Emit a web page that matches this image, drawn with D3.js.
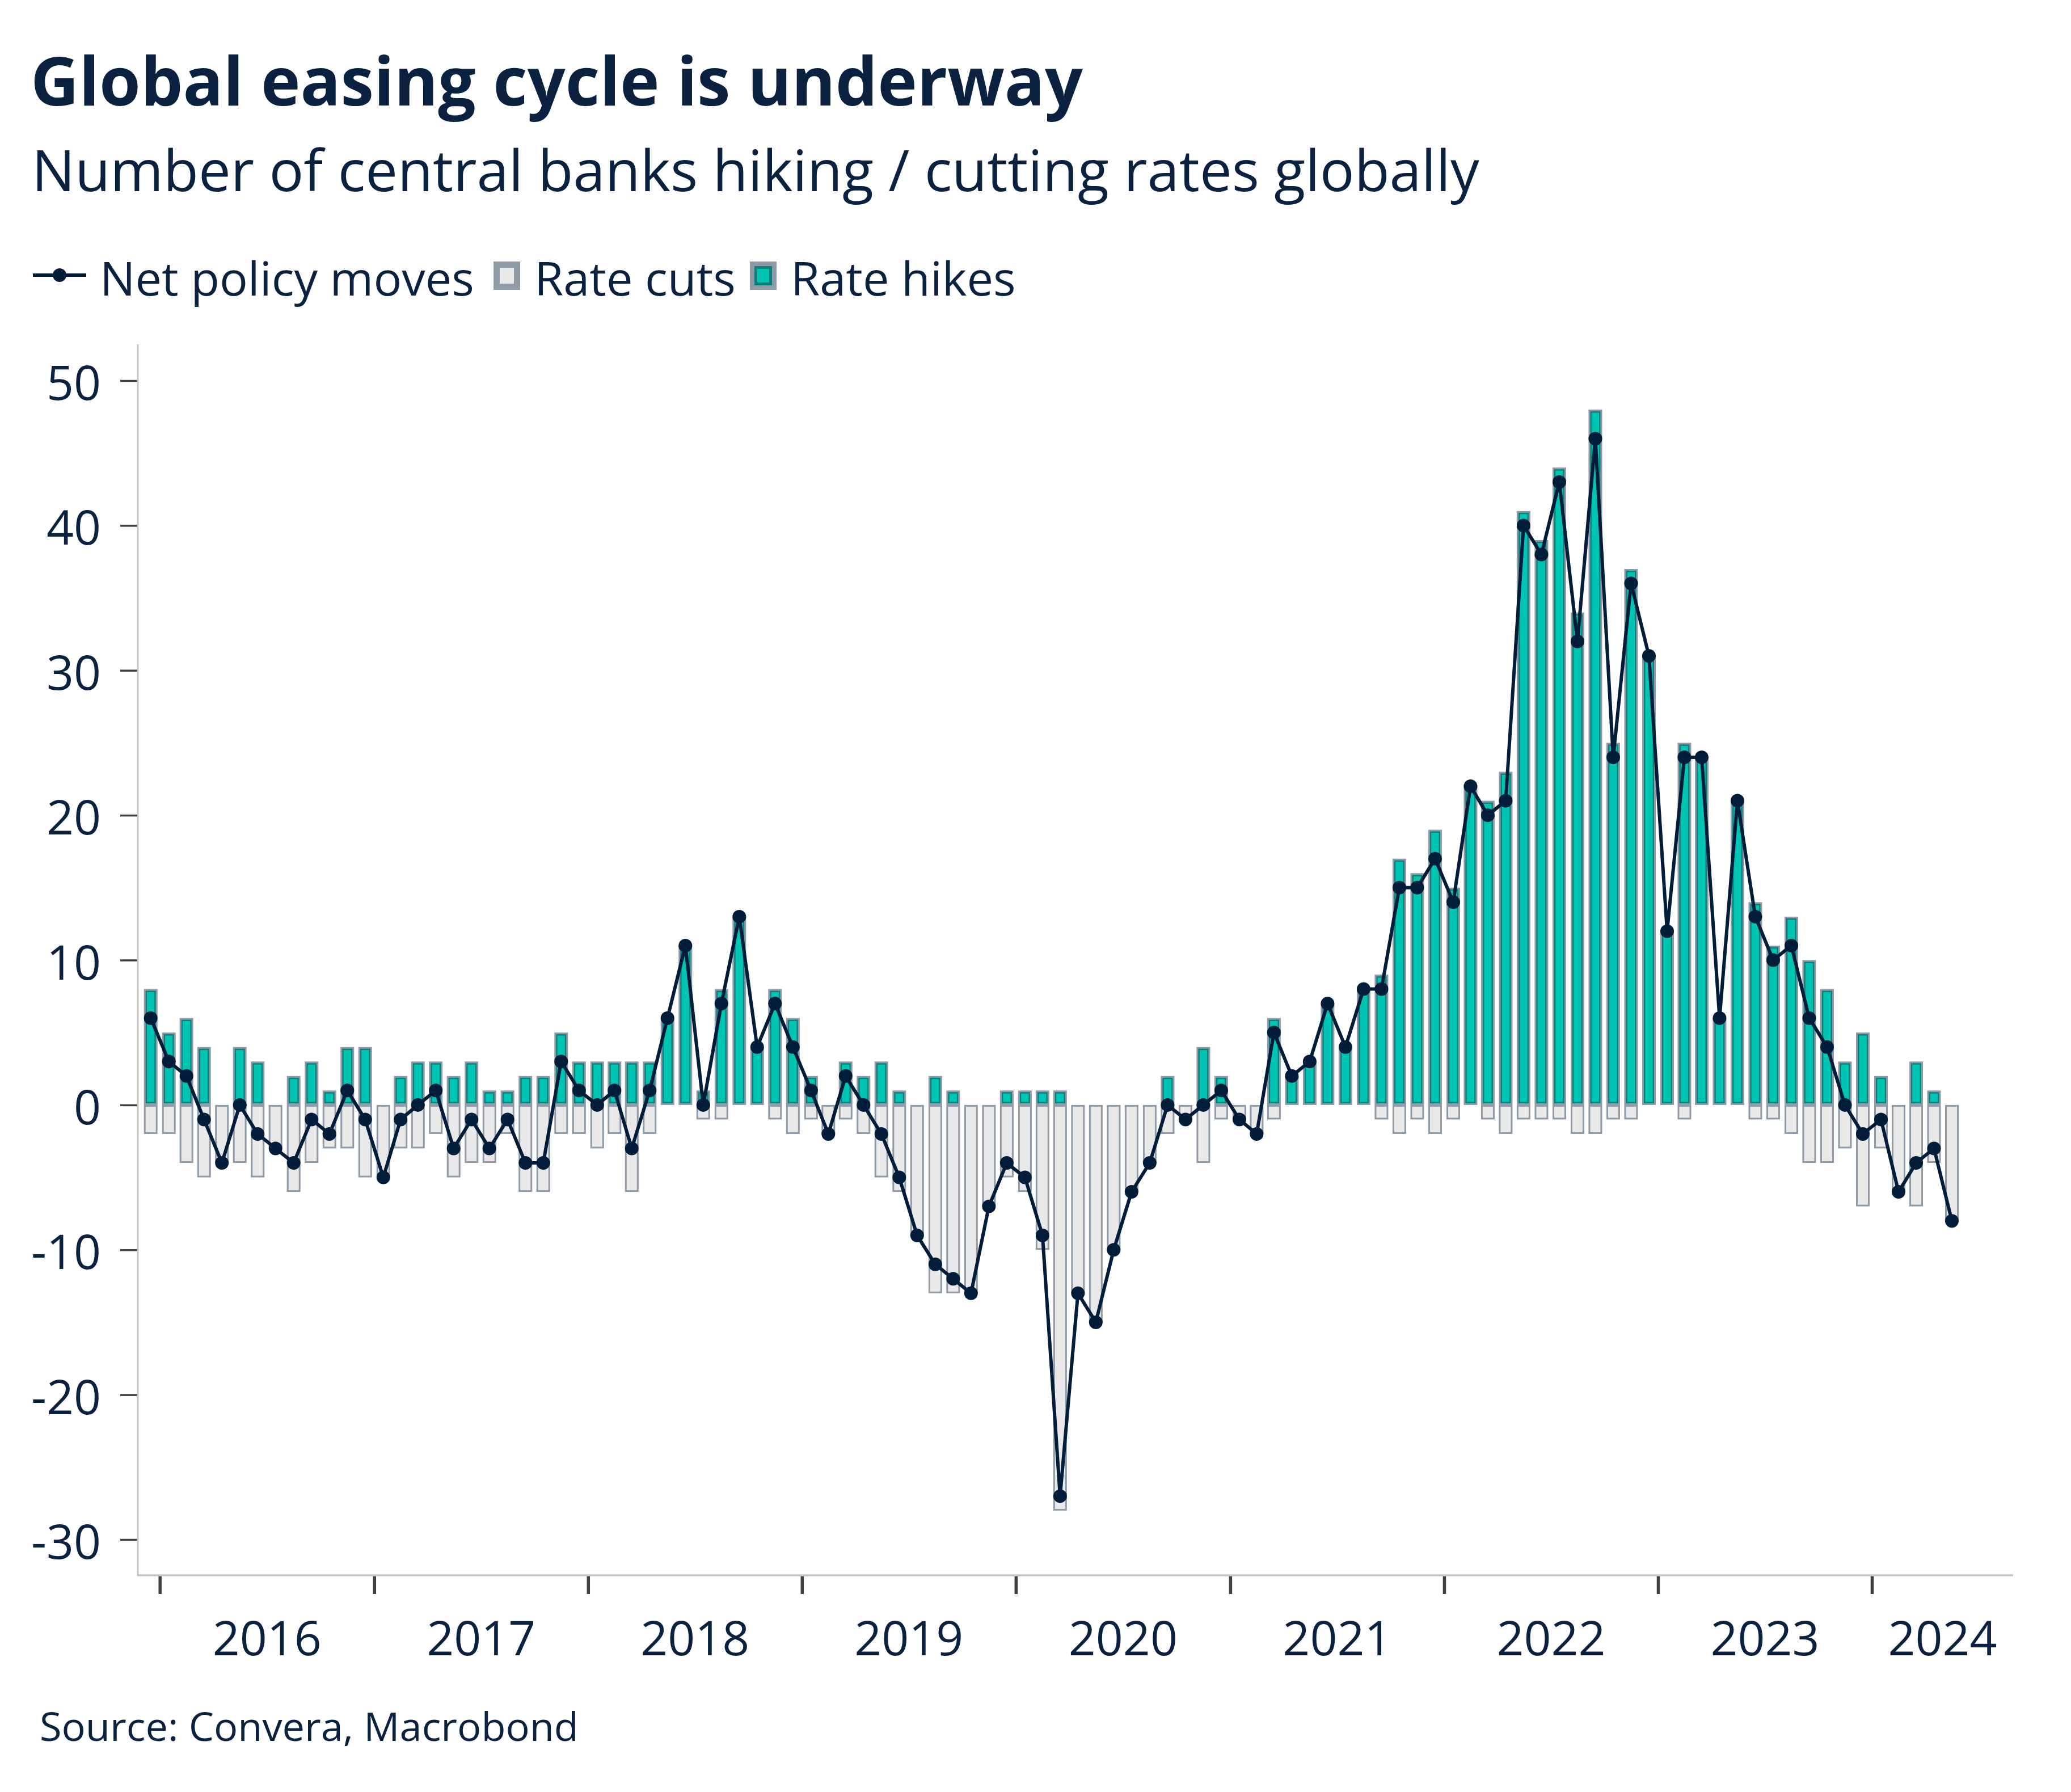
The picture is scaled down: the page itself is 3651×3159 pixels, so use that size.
<!DOCTYPE html>
<html><head><meta charset="utf-8">
<script src="https://cdn.jsdelivr.net/npm/d3@7"></script>
<style>html,body{margin:0;padding:0;background:#fff;} svg{display:block;}</style>
</head><body>
<svg id="c" width="3651" height="3159"></svg>
<script>
// ---- data (monthly, first month Dec 2015) ----
const firstMonth = "2015-12";
const hikes = [8,5,6,4,0,4,3,0,2,3,1,4,4,0,2,3,3,2,3,1,1,2,2,5,3,3,3,3,3,6,11,1,8,13,4,8,6,2,0,3,2,3,1,0,2,1,0,0,1,1,1,1,0,0,0,0,0,2,0,4,2,0,0,6,2,3,7,4,8,9,17,16,19,15,22,21,23,41,39,44,34,48,25,37,31,12,25,24,6,21,14,11,13,10,8,3,5,2,0,3,1,0];
const cuts  = [2,2,4,5,4,4,5,3,6,4,3,3,5,5,3,3,2,5,4,4,2,6,6,2,2,3,2,6,2,0,0,1,1,0,0,1,2,1,2,1,2,5,6,9,13,13,13,7,5,6,10,28,13,15,10,6,4,2,1,4,1,1,2,1,0,0,0,0,0,1,2,1,2,1,0,1,2,1,1,1,2,2,1,1,0,0,1,0,0,0,1,1,2,4,4,3,7,3,6,7,4,8];
const net   = [6,3,2,-1,-4,0,-2,-3,-4,-1,-2,1,-1,-5,-1,0,1,-3,-1,-3,-1,-4,-4,3,1,0,1,-3,1,6,11,0,7,13,4,7,4,1,-2,2,0,-2,-5,-9,-11,-12,-13,-7,-4,-5,-9,-27,-13,-15,-10,-6,-4,0,-1,0,1,-1,-2,5,2,3,7,4,8,8,15,15,17,14,22,20,21,40,38,43,32,46,24,36,31,12,24,24,6,21,13,10,11,6,4,0,-2,-1,-6,-4,-3,-8];
const yTicks = [-30,-20,-10,0,10,20,30,40,50];
const yearLabels = ["2016","2017","2018","2019","2020","2021","2022","2023","2024"];
const titleText = "Global easing cycle is underway";
const subtitleText = "Number of central banks hiking / cutting rates globally";
const sourceText = "Source: Convera, Macrobond";
const legendLabels = ["Net policy moves","Rate cuts","Rate hikes"];

// ---- styles ----
const W = 3651, H = 3159;
const navy = "#0a2240", lineCol = "#021d3a";
const teal = "#00c5b3", tealDark = "#0a7f7b", barGrey = "#8e9aa6", cutFill = "#e9e9e9";
const font = "'Open Sans','Noto Sans',sans-serif";

const svg = d3.select("#c");
svg.append("rect").attr("width", W).attr("height", H).attr("fill", "#fff");

function fit(sel, target) {
  const w = sel.node().getComputedTextLength();
  const fs = parseFloat(sel.attr("font-size"));
  sel.attr("font-size", fs * target / w);
  return fs * target / w;
}

// ---- titles ----
fit(svg.append("text").attr("x", 54).attr("y", 186).attr("font-family", font)
  .attr("font-weight", 700).attr("font-size", 120).attr("fill", navy).text(titleText), 1855);
fit(svg.append("text").attr("x", 56).attr("y", 337).attr("font-family", font)
  .attr("font-size", 100).attr("fill", navy).text(subtitleText), 2552);

// ---- legend ----
const lg = svg.append("g");
lg.append("line").attr("x1", 58).attr("x2", 152).attr("y1", 485).attr("y2", 485)
  .attr("stroke", lineCol).attr("stroke-width", 6);
lg.append("circle").attr("cx", 105).attr("cy", 485).attr("r", 12).attr("fill", lineCol);
const lt0 = lg.append("text").attr("x", 176).attr("y", 521).attr("font-family", font)
  .attr("font-size", 84).attr("fill", navy).text(legendLabels[0]);
const lfs = fit(lt0, 660);
lg.append("rect").attr("x", 870).attr("y", 461).attr("width", 47).attr("height", 50).attr("fill", barGrey);
lg.append("rect").attr("x", 881).attr("y", 472).attr("width", 25).attr("height", 28).attr("fill", cutFill);
lg.append("text").attr("x", 942).attr("y", 521).attr("font-family", font)
  .attr("font-size", lfs).attr("fill", navy).text(legendLabels[1]);
lg.append("rect").attr("x", 1322).attr("y", 461).attr("width", 47).attr("height", 50).attr("fill", barGrey);
lg.append("rect").attr("x", 1330).attr("y", 469).attr("width", 31).attr("height", 34).attr("fill", tealDark);
lg.append("rect").attr("x", 1335).attr("y", 474).attr("width", 21).attr("height", 24).attr("fill", teal);
lg.append("text").attr("x", 1394).attr("y", 521).attr("font-family", font)
  .attr("font-size", lfs).attr("fill", navy).text(legendLabels[2]);

// ---- scales ----
const x = d3.scaleUtc()
  .domain([new Date(Date.UTC(2016,0,1)), new Date(Date.UTC(2024,0,1))])
  .range([281.7, 3300]);
const y = d3.scaleLinear().domain([-30, 50]).range([2714, 671]);
const xLeft = 243, xRight = 3549, yTop = 607, yBottom = 2777;

const start = d3.utcParse("%Y-%m")(firstMonth);
const rows = hikes.map((h, i) => {
  const m0 = d3.utcMonth.offset(start, i), m1 = d3.utcMonth.offset(start, i + 1);
  return { date: new Date((+m0 + +m1) / 2), hike: h, cut: cuts[i], net: net[i] };
});

// ---- axes ----
const yAxis = svg.append("g").attr("transform", `translate(${xLeft},0)`)
  .call(d3.axisLeft(y).tickValues(yTicks).tickSize(31).tickPadding(34).tickFormat(d => String(d)));
yAxis.select(".domain").remove();
yAxis.selectAll(".tick line").attr("stroke", "#404040").attr("stroke-width", 3.5);
yAxis.selectAll(".tick text").attr("font-family", font).attr("font-size", 84)
  .attr("fill", navy).attr("dy", "0.40em");

const yearTicks = d3.utcYear.range(new Date(Date.UTC(2016,0,1)), new Date(Date.UTC(2024,0,2)));
const xAxis = svg.append("g").attr("transform", `translate(0,${yBottom})`)
  .call(d3.axisBottom(x).tickValues(yearTicks).tickSize(33).tickFormat(""));
xAxis.select(".domain").remove();
xAxis.selectAll(".tick line").attr("stroke", "#404040").attr("stroke-width", 5.5);
svg.append("g").selectAll("text").data(yearLabels).join("text")
  .attr("x", (d, i) => {
    const a = x(yearTicks[i]);
    const b = i + 1 < yearTicks.length ? x(yearTicks[i + 1]) : xRight;
    return (a + b) / 2;
  })
  .attr("y", 2918).attr("text-anchor", "middle").attr("font-family", font)
  .attr("font-size", 84).attr("fill", navy).text(d => d);

svg.append("line").attr("x1", xLeft).attr("x2", xLeft).attr("y1", yTop).attr("y2", yBottom)
  .attr("stroke", "#c4c4c4").attr("stroke-width", 3);
svg.append("line").attr("x1", xLeft - 1.5).attr("x2", xRight).attr("y1", yBottom).attr("y2", yBottom)
  .attr("stroke", "#c4c4c4").attr("stroke-width", 3.5);

// ---- bars ----
const bw = 24, b = 3, t = 2.4;
const bars = svg.append("g");
rows.forEach(r => {
  const cx = x(r.date), x0 = cx - bw / 2, z = y(0);
  if (r.cut > 0) {
    const yb = y(-r.cut);
    bars.append("rect").attr("x", x0).attr("y", z).attr("width", bw).attr("height", yb - z).attr("fill", barGrey);
    bars.append("rect").attr("x", x0 + b).attr("y", z + b).attr("width", bw - 2 * b).attr("height", yb - z - 2 * b).attr("fill", cutFill);
  }
  if (r.hike > 0) {
    const yt = y(r.hike);
    bars.append("rect").attr("x", x0).attr("y", yt).attr("width", bw).attr("height", z - yt).attr("fill", barGrey);
    bars.append("rect").attr("x", x0 + b).attr("y", yt + b).attr("width", bw - 2 * b).attr("height", z - yt - 2 * b).attr("fill", tealDark);
    bars.append("rect").attr("x", x0 + b + t).attr("y", yt + b + t).attr("width", bw - 2 * (b + t)).attr("height", Math.max(0, z - yt - 2 * (b + t))).attr("fill", teal);
  }
});

// ---- net line ----
svg.append("path").datum(rows)
  .attr("d", d3.line().x(d => x(d.date)).y(d => y(d.net)))
  .attr("fill", "none").attr("stroke", lineCol).attr("stroke-width", 6).attr("stroke-linejoin", "round");
svg.append("g").selectAll("circle").data(rows).join("circle")
  .attr("cx", d => x(d.date)).attr("cy", d => y(d.net)).attr("r", 12).attr("fill", lineCol);

// ---- source ----
fit(svg.append("text").attr("x", 70).attr("y", 3069).attr("font-family", font)
  .attr("font-size", 70).attr("fill", navy).text(sourceText), 950);
</script>
</body></html>
